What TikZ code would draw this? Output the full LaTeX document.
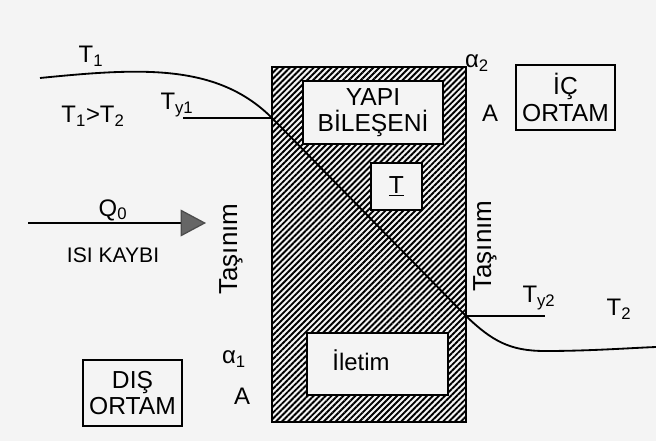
\documentclass[tikz,border=0pt]{standalone}
\usepackage{fontspec}
\setmainfont{Liberation Sans}
\usetikzlibrary{patterns.meta,arrows.meta}
\definecolor{bgcol}{RGB}{244,244,244}
\tikzset{
  lbl/.style={inner sep=0pt, font=\fontsize{17}{19}\selectfont},
  wallbox/.style={draw, line width=1pt, fill=bgcol, inner sep=0pt, align=center,
    font=\fontsize{17.5}{19}\selectfont},
}
\begin{document}
\begin{tikzpicture}[x=0.025cm, y=-0.025cm]
  \fill[bgcol] (0,0) rectangle (656,441);
  \useasboundingbox (0,0) rectangle (656,441);
  % wall with hatching
  \draw[line width=1pt, pattern={Lines[angle=45,distance=3pt,line width=1.35pt]}]
    (272,67) rectangle (466,422);
  \node[wallbox, minimum width=3.5cm, minimum height=1.575cm] (yapi) at (373,112.5) {YAPI\\BİLEŞENİ};
  \node[wallbox, minimum width=1.275cm, minimum height=1.175cm] (tbox) at (396.5,186.5) {\underline{T}};
  \node[wallbox, minimum width=3.525cm, minimum height=1.55cm] (iletim) at (377.5,364) {};
  \node[lbl] (iletimtxt) at (361,360) {İletim};
  % outer and inner space
  \node[wallbox, minimum width=2.475cm, minimum height=1.625cm] (ic) at (565.5,97.5) {İÇ\\ORTAM};
  \node[wallbox, minimum width=2.475cm, minimum height=1.65cm] (dis) at (132.5,393) {DIŞ\\ORTAM};
  % temperature profile
  \coordinate (ty1) at (272,118);
  \coordinate (ty2) at (466,316);
  \coordinate (ty1end) at (183,118);
  \coordinate (ty2end) at (545,316);
  \draw[line width=1.3pt] (40,78) .. controls (140,68) and (217,63) .. (ty1) -- (ty2)
    .. controls (492,341) and (510,351) .. (545,351) .. controls (590,351) and (630,348) .. (656,347);
  \draw[line width=0.9pt] (ty1) -- (ty1end);
  \draw[line width=0.9pt] (ty2) -- (ty2end);
  \node[lbl] (t1) at (91,56) {T\textsubscript{1}};
  \node[lbl] (t1t2) at (93,116) {T\textsubscript{1}>T\textsubscript{2}};
  \node[lbl] (ty1lbl) at (177,105) {T\textsubscript{y1}};
  \node[lbl] (ty2lbl) at (539,298) {T\textsubscript{y2}};
  \node[lbl] (t2) at (619,309) {T\textsubscript{2}};
  % heat loss
  \coordinate (qstart) at (28,223);
  \coordinate (qend) at (206,223);
  \draw[line width=0.9pt, -{Triangle[length=18pt,width=19pt,fill=black!60,color=black!70]}] (qstart) -- (qend);
  \node[lbl] (q0) at (113,210) {Q\textsubscript{0}};
  \node[lbl, font=\fontsize{15}{17}\selectfont] (kayip) at (113,255) {ISI KAYBI};
  % convection sides
  \node[lbl, rotate=90, font=\fontsize{18.5}{20}\selectfont] (tas1) at (231,249) {Taşınım};
  \node[lbl, rotate=90, font=\fontsize{18.5}{20}\selectfont] (tas2) at (485,246) {Taşınım};
  \node[lbl] (alf1) at (234,359) {α\textsubscript{1}};
  \node[lbl] (a1) at (242,396) {A};
  \node[lbl] (alf2) at (477,63) {α\textsubscript{2}};
  \node[lbl] (a2) at (490,113) {A};
\end{tikzpicture}
\end{document}
